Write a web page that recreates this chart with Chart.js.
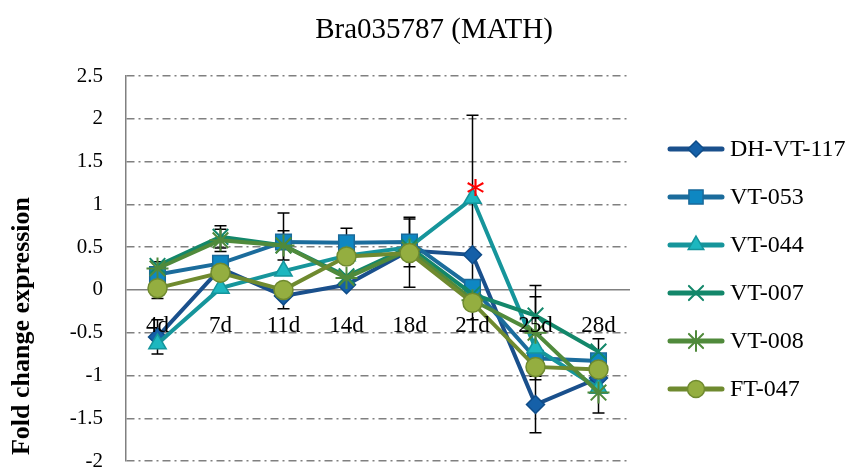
<!DOCTYPE html>
<html>
<head>
<meta charset="utf-8">
<script src="https://cdn.jsdelivr.net/npm/chart.js@4/dist/chart.umd.min.js"></script>
<style>
  html, body { margin: 0; padding: 0; background: #fff; overflow: hidden; }
  canvas { display: block; }
</style>
</head>
<body>
<canvas id="chart" width="854" height="468"></canvas>
<script>
const days = ['4d', '7d', '11d', '14d', '18d', '21d', '25d', '28d'];
const seriesNames = ['DH-VT-117', 'VT-053', 'VT-044', 'VT-007', 'VT-008', 'FT-047'];

const dh117 = [-0.55, 0.25, -0.07, 0.06, 0.46, 0.41, -1.34, -1.03];
const vt053 = [0.18, 0.31, 0.56, 0.55, 0.56, 0.03, -0.8, -0.83];
const vt044 = [-0.63, 0.02, 0.22, 0.4, 0.5, 1.07, -0.68, -1.15];
const vt007 = [0.28, 0.62, 0.52, 0.16, 0.5, -0.05, -0.3, -0.72];
const vt008 = [0.25, 0.58, 0.52, 0.14, 0.47, -0.12, -0.5, -1.2];
const ft047 = [0.02, 0.2, 0.0, 0.39, 0.43, -0.15, -0.9, -0.93];

// error bar half widths
const dh117Err = [0.2, 0, 0.15, 0, 0, 0, 0.33, 0];
const vt053Err = [0, 0, 0.34, 0.17, 0.29, 0, 0, 0];
const vt044Err = [0, 0, 0, 0, 0, 0.97, 0, 0];
const vt007Err = [0.05, 0.13, 0.17, 0, 0, 0, 0.22, 0.15];
const vt008Err = [0, 0.13, 0, 0, 0, 0, 0.55, 0.24];
const ft047Err = [0.12, 0, 0, 0, 0.4, 0.2, 0, 0];

const yTicks = [-2, -1.5, -1, -0.5, 0, 0.5, 1, 1.5, 2, 2.5];
const starDay = '21d';
const starValue = 1.2;

const serif = '"Liberation Serif", "DejaVu Serif", serif';

const styles = [
  { line: '#1A508C', fill: '#1560A8', border: '#0F4C88', point: 'rectRot', radius: 9 },
  { line: '#1B6C9C', fill: '#0E87C2', border: '#1A6A9A', point: 'rect', radius: 11 },
  { line: '#16959B', fill: '#1DB7BF', border: '#14959C', point: 'triangle', radius: 10 },
  { line: '#13876A', fill: '#13876A', border: '#13876A', point: 'crossRot', radius: 11 },
  { line: '#508A3B', fill: '#508A3B', border: '#508A3B', point: 'star', radius: 11 },
  { line: '#6F8A2F', fill: '#94AE40', border: '#6F8A2F', point: 'circle', radius: 9.5 },
];

const allValues = [dh117, vt053, vt044, vt007, vt008, ft047];
const allErrors = [dh117Err, vt053Err, vt044Err, vt007Err, vt008Err, ft047Err];

const errorBarPlugin = {
  id: 'errorBars',
  beforeDatasetsDraw(chart) {
    const ctx = chart.ctx;
    const yAxis = chart.scales.y;
    ctx.save();
    ctx.strokeStyle = '#000';
    ctx.lineWidth = 1.5;
    chart.data.datasets.forEach((dataset, i) => {
      const meta = chart.getDatasetMeta(i);
      meta.data.forEach((pt, j) => {
        const e = allErrors[i][j];
        if (!e) return;
        const v = dataset.data[j];
        const top = yAxis.getPixelForValue(v + e);
        const bot = yAxis.getPixelForValue(v - e);
        ctx.beginPath();
        ctx.moveTo(pt.x, top);
        ctx.lineTo(pt.x, bot);
        ctx.moveTo(pt.x - 6, top);
        ctx.lineTo(pt.x + 6, top);
        ctx.moveTo(pt.x - 6, bot);
        ctx.lineTo(pt.x + 6, bot);
        ctx.stroke();
      });
    });
    ctx.restore();
  }
};

const extrasPlugin = {
  id: 'extras',
  afterDraw(chart) {
    const ctx = chart.ctx;
    const xAxis = chart.scales.x;
    const yAxis = chart.scales.y;
    ctx.save();

    // title
    ctx.fillStyle = '#000';
    ctx.font = '29px ' + serif;
    ctx.textAlign = 'center';
    ctx.textBaseline = 'middle';
    ctx.fillText('Bra035787 (MATH)', 434, 30);

    // x labels sit just under the zero line
    ctx.font = '23px ' + serif;
    ctx.textBaseline = 'alphabetic';
    const zeroY = yAxis.getPixelForValue(0);
    days.forEach((d, i) => {
      ctx.fillText(d, xAxis.getPixelForValue(i), zeroY + 42);
    });

    // significance star
    ctx.fillStyle = '#FF0000';
    ctx.font = '38px "DejaVu Sans", sans-serif';
    const m = ctx.measureText('*');
    const sx = xAxis.getPixelForValue(days.indexOf(starDay)) + 3;
    const sy = yAxis.getPixelForValue(starValue);
    ctx.fillText('*', sx, sy + (m.actualBoundingBoxAscent - m.actualBoundingBoxDescent) / 2);

    // y axis title
    ctx.fillStyle = '#000';
    ctx.font = 'bold 26px ' + serif;
    ctx.translate(22, 326);
    ctx.rotate(-Math.PI / 2);
    ctx.textBaseline = 'middle';
    ctx.fillText('Fold change expression', 0, 0);
    ctx.setTransform(1, 0, 0, 1, 0, 0);

    // legend
    seriesNames.forEach((name, i) => {
      const st = styles[i];
      const y = 149 + i * 48;
      ctx.strokeStyle = st.line;
      ctx.lineWidth = 5;
      ctx.lineCap = 'round';
      ctx.beginPath();
      ctx.moveTo(670, y);
      ctx.lineTo(722, y);
      ctx.stroke();
      ctx.fillStyle = st.fill;
      ctx.strokeStyle = st.border;
      ctx.lineWidth = (st.point === 'crossRot' || st.point === 'star') ? 2 : 1.5;
      Chart.helpers.drawPoint(ctx, { pointStyle: st.point, radius: st.radius - 1, rotation: 0, borderWidth: ctx.lineWidth }, 696, y);
      ctx.fillStyle = '#000';
      ctx.font = '24px ' + serif;
      ctx.textAlign = 'left';
      ctx.textBaseline = 'middle';
      ctx.fillText(name, 730, y + 1);
    });
    ctx.restore();
  }
};

new Chart(document.getElementById('chart'), {
  type: 'line',
  data: {
    labels: days,
    datasets: seriesNames.map((name, i) => ({
      label: name,
      data: allValues[i],
      borderColor: styles[i].line,
      backgroundColor: styles[i].fill,
      borderWidth: 4,
      tension: 0,
      pointStyle: styles[i].point,
      pointRadius: styles[i].radius,
      pointBackgroundColor: styles[i].fill,
      pointBorderColor: styles[i].border,
      pointBorderWidth: (styles[i].point === 'crossRot' || styles[i].point === 'star') ? 2 : 1.5,
      order: seriesNames.length - i,
      clip: false,
    }))
  },
  options: {
    responsive: false,
    animation: false,
    layout: { autoPadding: false, padding: { left: 0, right: 224, top: 76, bottom: 7 } },
    plugins: {
      legend: { display: false },
      tooltip: { enabled: false },
      title: { display: false },
    },
    scales: {
      x: {
        display: false,
        offset: true,
      },
      y: {
        min: -2,
        max: 2.5,
        afterFit(scale) {
          scale.width = 126;
          scale.paddingTop = 0;
          scale.paddingBottom = 0;
        },
        afterBuildTicks(scale) { scale.ticks = yTicks.map(v => ({ value: v })); },
        grid: {
          color: '#808080',
          lineWidth: 1.4,
          drawTicks: false,
        },
        border: {
          display: true,
          color: '#808080',
          width: 1.5,
          dash: (c) => (c.tick && c.tick.value === 0 ? [] : [8, 4, 2, 4]),
        },
        ticks: {
          color: '#000',
          padding: 23,
          font: { family: serif, size: 21, lineHeight: 0.6 },
          callback: (v) => String(v),
        },
      },
    },
  },
  plugins: [errorBarPlugin, extrasPlugin],
});
</script>
</body>
</html>
